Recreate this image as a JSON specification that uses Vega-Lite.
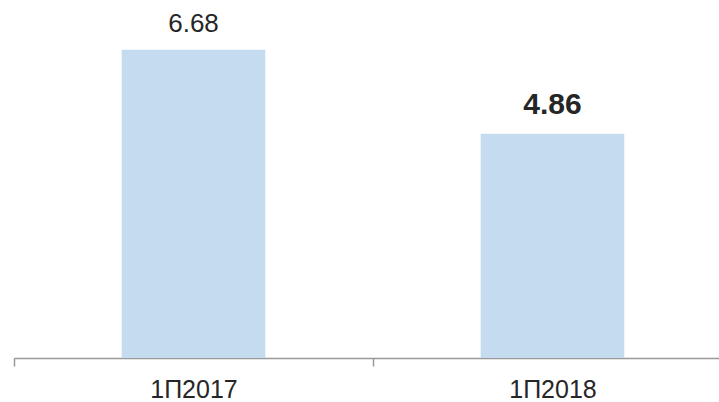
{
  "$schema": "https://vega.github.io/schema/vega-lite/v6.json",
  "width": 718,
  "height": 358,
  "autosize": {"type": "none"},
  "padding": {"left": 14, "top": 0, "right": 0, "bottom": 44},
  "background": "white",
  "config": {"view": {"stroke": null}, "font": "Liberation Sans"},
  "data": {"values": [
    {"period": "1П2017", "value": 6.68},
    {"period": "1П2018", "value": 4.86}
  ]},
  "encoding": {
    "x": {
      "field": "period", "type": "nominal", "sort": null,
      "scale": {"paddingInner": 0, "paddingOuter": 0},
      "axis": {
        "title": null, "labelAngle": 0, "tickBand": "extent",
        "domainColor": "#999999", "tickColor": "#999999", "tickSize": 8,
        "domainWidth": 1.5, "tickWidth": 1.5,
        "labelFontSize": 25, "labelColor": "#262626", "labelPadding": 31,
        "labelBaseline": "alphabetic",
        "labelFont": "Liberation Sans"
      }
    },
    "y": {
      "field": "value", "type": "quantitative",
      "scale": {"domain": [0, 7.76]},
      "axis": null
    }
  },
  "layer": [
    {"mark": {"type": "bar", "color": "#c5dbf0", "width": {"band": 0.4}}},
    {
      "transform": [{"filter": "datum.period === '1П2017'"}],
      "mark": {"type": "text", "baseline": "alphabetic", "dy": -18, "color": "#262626", "font": "Liberation Sans", "fontSize": 26},
      "encoding": {
        "text": {"field": "value", "type": "quantitative", "format": ".2f"}
      }
    },
    {
      "transform": [{"filter": "datum.period === '1П2018'"}],
      "mark": {"type": "text", "baseline": "alphabetic", "dy": -20, "color": "#262626", "font": "Liberation Sans", "fontSize": 30, "fontWeight": "bold"},
      "encoding": {
        "text": {"field": "value", "type": "quantitative", "format": ".2f"}
      }
    }
  ]
}
